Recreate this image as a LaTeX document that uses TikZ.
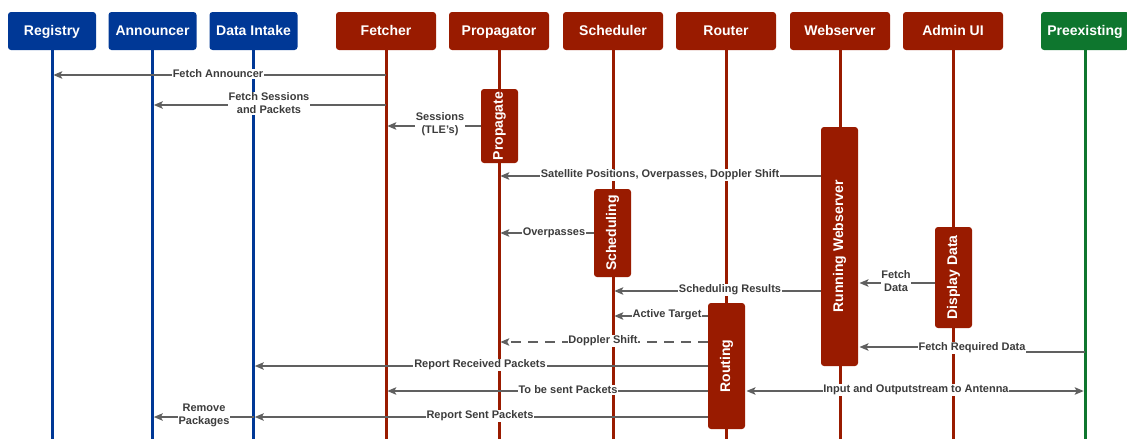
\documentclass[tikz,border=0pt]{standalone}
\usepackage{fontspec}
\usepackage{graphicx}
\setmainfont{Liberation Sans}
\usetikzlibrary{arrows.meta}
\definecolor{blueC}{RGB}{0,56,150}
\definecolor{redC}{RGB}{153,27,0}
\definecolor{greenC}{RGB}{14,118,46}
\definecolor{msgC}{RGB}{96,96,96}
\definecolor{lblC}{RGB}{60,60,60}
\begin{document}
\begin{tikzpicture}[x=1pt,y=-1pt,
  hdr/.style={rounded corners=3pt, text=white, font=\fontsize{14}{16}\selectfont\bfseries,
    minimum height=38pt, inner sep=0pt, text height=10pt, text depth=2pt},
  hblue/.style={hdr, fill=blueC, minimum width=88pt},
  hred/.style={hdr, fill=redC, minimum width=100pt},
  hgreen/.style={hdr, fill=greenC, minimum width=88pt},
  life/.style={line width=3pt},
  act/.style={fill=redC, rounded corners=3pt, minimum width=37pt, inner sep=0pt,
    text=white, font=\fontsize{14}{16}\selectfont\bfseries},
  msg/.style={draw=msgC, line width=1.4pt, shorten >=1.3pt,
    -{Stealth[length=9pt,width=7.5pt,inset=2pt]}},
  lbl/.style={fill=white, text=lblC, font=\fontsize{11}{13}\selectfont\bfseries,
    inner sep=0.8pt, align=center}
]
\useasboundingbox (0,0) rectangle (1127,439);

% participants
\node[hblue]  (registry)  at (52,31)    {Registry};
\node[hblue]  (announcer) at (152.5,31) {Announcer};
\node[hblue]  (intake)    at (253.5,31) {Data Intake};
\node[hred]   (fetcher)   at (386,31)   {Fetcher};
\node[hred]   (propagator) at (499,31)  {Propagator};
\node[hred]   (scheduler) at (613,31)   {Scheduler};
\node[hred]   (router)    at (726,31)   {Router};
\node[hred]   (webserver) at (840,31)   {Webserver};
\node[hred]   (admin)     at (953,31)   {Admin UI};
\node[hgreen] (preexisting) at (1085,31) {Preexisting};

% lifelines
\foreach \p/\c in {registry/blueC, announcer/blueC, intake/blueC,
                   fetcher/redC, propagator/redC, scheduler/redC, router/redC,
                   webserver/redC, admin/redC, preexisting/greenC}{
  \coordinate (\p-end) at (\p |- 0,440);
  \draw[life, \c] (\p.south) -- (\p-end);
}

% activation bars
\node[act, minimum height=74pt]  (propagate)  at (499.5,126)   {\rotatebox{90}{Propagate}};
\node[act, minimum height=88pt]  (scheduling) at (612.5,233)   {\rotatebox{90}{Scheduling}};
\node[act, minimum height=239pt] (running)    at (839.5,246.5) {\rotatebox{90}{Running Webserver}};
\node[act, minimum height=101pt] (display)    at (953.5,277.5) {\rotatebox{90}{Display Data}};
\node[act, minimum height=126pt] (routing)    at (726.5,366)   {\rotatebox{90}{Routing}};

% messages
\draw[msg] (fetcher |- 0,75) -- (registry |- 0,75);
\draw[msg] (fetcher |- 0,105) -- (announcer |- 0,105);
\draw[msg] (propagate.west |- 0,126) -- (fetcher |- 0,126);
\draw[msg] (running.west |- 0,176) -- (propagator |- 0,176);
\draw[msg] (scheduling.west |- 0,233) -- (propagator |- 0,233);
\draw[msg] (display.west |- 0,283) -- (running.east |- 0,283);
\draw[msg] (running.west |- 0,291) -- (scheduler |- 0,291);
\draw[msg] (routing.west |- 0,316) -- (scheduler |- 0,316);
\draw[msg, dash pattern=on 10pt off 7pt] (routing.west |- 0,342) -- (propagator |- 0,342);
\draw[msg] (preexisting |- 0,352) -- (972,352) -- (972,347) -- (running.east |- 0,347);
\draw[msg] (routing.west |- 0,366) -- (intake |- 0,366);
\draw[msg] (routing.west |- 0,391) -- (fetcher |- 0,391);
\draw[msg, shorten <=1.3pt, {Stealth[length=9pt,width=7.5pt,inset=2pt]}-{Stealth[length=9pt,width=7.5pt,inset=2pt]}]
  (routing.east |- 0,391) -- (preexisting |- 0,391);
\draw[msg] (routing.west |- 0,417) -- (intake |- 0,417);
\draw[msg] (intake |- 0,417) -- (announcer |- 0,417);

% message labels
\node[lbl] (l1)  at (218,74)    {Fetch Announcer};
\node[lbl] (l2)  at (269,103.5) {Fetch Sessions\\and Packets};
\node[lbl] (l3)  at (440,124.5) {Sessions\\(TLE's)};
\node[lbl] (l4)  at (660,175)   {Satellite Positions, Overpasses, Doppler Shift};
\node[lbl] (l5)  at (554,233)   {Overpasses};
\node[lbl] (l6)  at (896,281.5) {Fetch\\Data};
\node[lbl] (l7)  at (730,290)   {Scheduling Results};
\node[lbl] (l8)  at (667,315)   {Active Target};
\node[lbl] (l9)  at (603,341)   {Doppler Shift};
\node[lbl] (l10) at (972,348)   {Fetch Required Data};
\node[lbl] (l11) at (480,365)   {Report Received Packets};
\node[lbl] (l12) at (568,390)   {To be sent Packets};
\node[lbl] (l13) at (916,390)   {Input and Outputstream to Antenna};
\node[lbl] (l14) at (480,416)   {Report Sent Packets};
\node[lbl] (l15) at (204,415.5) {Remove\\Packages};
\end{tikzpicture}
\end{document}
